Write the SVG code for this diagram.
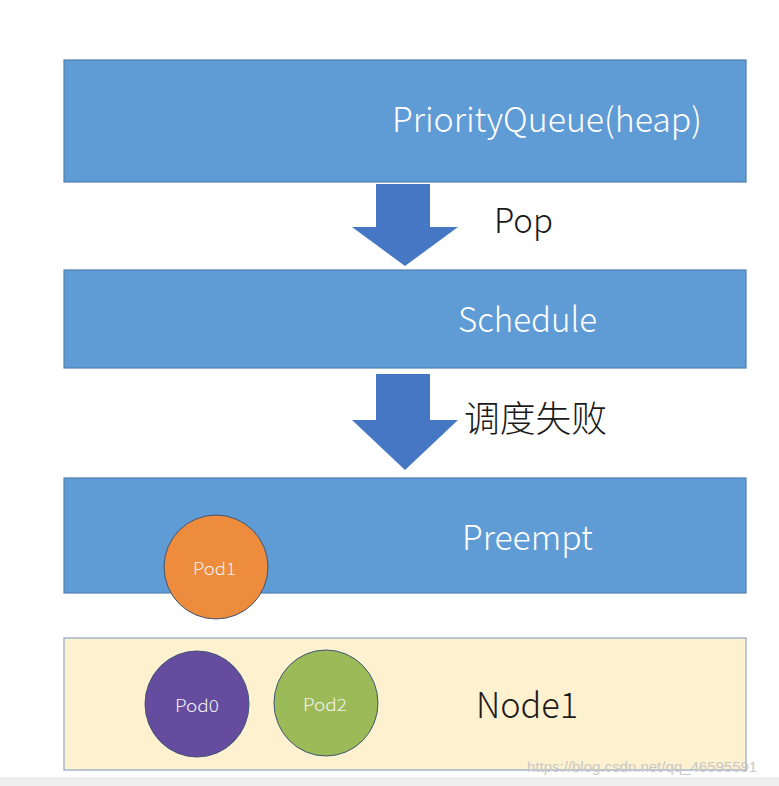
<svg xmlns="http://www.w3.org/2000/svg" width="779" height="786" viewBox="0 0 779 786">
<style>
.box{fill:#5f9bd5;stroke:#4f7fb0;stroke-width:1.2}
.wt{fill:#ffffff;font-family:"Noto Sans CJK SC","Noto Sans",sans-serif;font-weight:300}
.bt{fill:#1a1a1a;font-family:"Noto Sans CJK SC","Noto Sans",sans-serif;font-weight:300}
.arrow{fill:#4677c4}
.pod{stroke:#3d5575;stroke-width:1}
.pt{fill:#f2f2f2;font-family:"Noto Sans CJK SC","Noto Sans",sans-serif;font-weight:300;font-size:17px}
</style>
<rect x="0" y="0" width="779" height="786" fill="#ffffff"/>
<rect x="0" y="777" width="779" height="9" fill="#eeeeee"/>
<g id="connectors">
<polygon class="arrow" points="376,184 430,184 430,227 458,227 405,266 352,227 376,227"/>
<polygon class="arrow" points="376,374 430,374 430,420 458,420 405,470 352,420 376,420"/>
<text class="bt" x="494" y="233" font-size="34" textLength="59" lengthAdjust="spacingAndGlyphs">Pop</text>
<text class="bt" x="464" y="432" font-size="36" textLength="143" lengthAdjust="spacingAndGlyphs">调度失败</text>
</g>
<g id="priorityqueue">
<rect class="box" x="64" y="60" width="682" height="122"/>
<text class="wt" x="392" y="132" font-size="34" textLength="310" lengthAdjust="spacingAndGlyphs">PriorityQueue(heap)</text>
</g>
<g id="schedule">
<rect class="box" x="64" y="270" width="682" height="98"/>
<text class="wt" x="458" y="332" font-size="34" textLength="139" lengthAdjust="spacingAndGlyphs">Schedule</text>
</g>
<g id="preempt">
<rect class="box" x="64" y="478" width="682" height="115"/>
<text class="wt" x="462" y="550" font-size="34" textLength="131" lengthAdjust="spacingAndGlyphs">Preempt</text>
</g>
<g id="pod1">
<circle class="pod" cx="216" cy="567" r="52" fill="#ed8c3c"/>
<text class="pt" x="193" y="575" textLength="43" lengthAdjust="spacingAndGlyphs">Pod1</text>
</g>
<g id="node1">
<rect x="64" y="638" width="682" height="132" fill="#fef1cf" stroke="#8ea5c8" stroke-width="1.2"/>
<text class="bt" x="476" y="718" font-size="35" textLength="102" lengthAdjust="spacingAndGlyphs">Node1</text>
</g>
<g id="pod0">
<ellipse class="pod" cx="197" cy="704" rx="52" ry="53" fill="#664c9f"/>
<text class="pt" x="175" y="712" textLength="44" lengthAdjust="spacingAndGlyphs">Pod0</text>
</g>
<g id="pod2">
<ellipse class="pod" cx="326" cy="703" rx="52" ry="53" fill="#9cbb58"/>
<text class="pt" x="303" y="711" textLength="44" lengthAdjust="spacingAndGlyphs">Pod2</text>
</g>
<text x="527" y="772" font-family="Liberation Sans,sans-serif" font-size="15" fill="#c8c8c8">https://blog.csdn.net/qq_46595591</text>
</svg>
